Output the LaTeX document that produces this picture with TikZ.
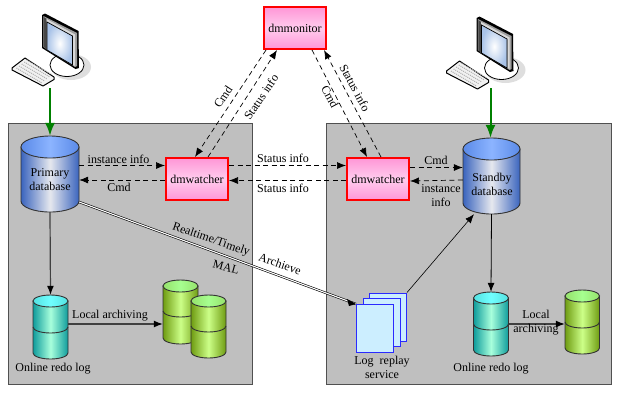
\documentclass[tikz,border=0pt]{standalone}
\usepackage{fontspec}
\setmainfont{Liberation Serif}
\usetikzlibrary{arrows.meta,calc}

\definecolor{panelfill}{HTML}{BFBFBF}
\definecolor{panelline}{HTML}{505050}
\definecolor{blueside}{HTML}{3A64BE}
\definecolor{bluemid}{HTML}{E6E8EE}
\definecolor{bluecap}{HTML}{8CB4FF}
\definecolor{bluecapedge}{HTML}{5A8AE8}
\definecolor{tealside}{HTML}{0F9C9C}
\definecolor{tealmid}{HTML}{A8FFDC}
\definecolor{tealcap}{HTML}{70FFFF}
\definecolor{limeside}{HTML}{6F9C12}
\definecolor{limemid}{HTML}{CCFF88}
\definecolor{limecap}{HTML}{A6FF90}
\definecolor{pinkedge}{HTML}{FF96D6}
\definecolor{pinkmid}{HTML}{FFCCEE}
\definecolor{sheetfill}{HTML}{CCEEFF}
\definecolor{sheetline}{HTML}{2A2AFF}
\definecolor{screenedge}{HTML}{A9C3E8}

\tikzset{
  x=1pt, y=-1pt,
  every node/.style={font=\fontsize{12}{14}\selectfont, inner sep=0pt, align=center},
  panel/.style={draw=panelline, fill=panelfill, line width=1pt},
  service/.style={draw=red, line width=2pt, minimum width=62pt, minimum height=42pt,
    top color=pinkedge, bottom color=pinkedge, middle color=pinkmid},
  sheet/.style={draw=sheetline, line width=1pt, fill=sheetfill, minimum width=37pt, minimum height=48pt},
  signal/.style={draw=black, line width=0.7pt, dash pattern=on 5pt off 3.5pt,
    -{Latex[length=9pt,width=7pt]}},
  flow/.style={draw=black, line width=0.8pt, -{Latex[length=9pt,width=7pt]}},
  heavyflow/.style={draw=black!75, line width=1.2pt, -{Latex[length=9pt,width=7pt,black]}},
  login/.style={draw=green!50!black, line width=2pt, -{Latex[length=13pt,width=10pt]}},
  replica/.style={draw=black, line width=0.6pt, double=white, double distance=1.1pt},
  pics/terminal/.style={code={
    % stand and its soft shadow
    \fill[black!13] (28,53) ellipse[x radius=20pt, y radius=13pt];
    \draw[fill=white, line width=0.8pt] (24,51) ellipse[x radius=17pt, y radius=11.5pt];
    % monitor housing
    \fill[black] (-1,1) -- (2,-0.5) -- (35.5,17) -- (36,54) -- (32.5,55) -- (-1,34) -- cycle;
    \fill[black!38] (0.3,2) -- (34.2,19) -- (34.2,52) -- (32,53) -- (0.3,33) -- cycle;
    \fill[black!72] (0.8,3) -- (3.6,5) -- (3.6,36.5) -- (0.8,32.5) -- cycle;
    \fill[white!85!black] (3.6,5) -- (32,20.5) -- (32,51.8) -- (30,51) -- (30,22) -- (3.6,8) -- cycle;
    % screen
    \shade[inner color=white, outer color=screenedge] (4,8) -- (29.5,22) -- (29.5,51) -- (4,36) -- cycle;
    \draw[black, line width=0.7pt] (4,8) -- (29.5,22) -- (29.5,51) -- (4,36) -- cycle;
    % keyboard
    \draw[fill=white!95!black, line width=1pt, line join=round]
      (-31,54) -- (-18,44) -- (11,63) -- (11,65.5) -- (0,72) -- (-31,56) -- cycle;
    \foreach \row in {0,...,4}{
      \draw[black!30, line width=1.1pt, dash pattern=on 1pt off 1pt]
        ({-26.5+2.6*\row},{54-2*\row}) -- ({-1+2.6*\row},{69-2*\row});
    }
  }}
}

% A drum with a shaded side, an optional seam and a lit cap.
% #1 name, #2 left x, #3 top y, #4 width, #5 height, #6 cap half-height,
% #7 palette prefix (side, mid, cap, cap edge), #8 seam position (negative: none)
\newcommand{\barrel}[8]{%
  \begin{scope}[shift={(#2,#3)}]
    \pgfmathsetmacro{\halfw}{#4/2}
    \shade[draw=black!80, line width=0.9pt, left color=#7side, right color=#7side, middle color=#7mid]
      (0,#6) -- (0,#5-#6) arc[start angle=180, end angle=360, x radius=\halfw pt, y radius=#6 pt]
      -- (#4,#6) -- cycle;
    \ifdim #8pt>0pt
      \draw[black!80, line width=0.9pt] (0,#8) arc[start angle=180, end angle=360, x radius=\halfw pt, y radius=#6 pt];
    \fi
    \shade[draw=black!80, line width=0.9pt, left color=#7capedge, right color=#7capedge, middle color=#7cap]
      (\halfw,#6) ellipse[x radius=\halfw pt, y radius=#6 pt];
    \node[minimum width=#4 pt, minimum height=#5 pt] (#1) at (\halfw,#5/2) {};
  \end{scope}%
}
\colorlet{tealcapedge}{tealcap!70!tealside}
\colorlet{limecapedge}{limecap!70!limeside}

\begin{document}
\begin{tikzpicture}
\useasboundingbox (0,0) rectangle (618,392);

% Hosts
\draw[panel] (8,123) rectangle (252,384);
\draw[panel] (326,123) rectangle (611,384);

% Workstations
\pic at (43,14) {terminal};
\pic at (477.5,17) {terminal};
\coordinate (pcA) at (50,88);
\coordinate (pcB) at (490.5,88);

% Databases and logs
\barrel{primary}{21}{136}{58}{76}{11}{blue}{-1}
\barrel{standby}{463}{138}{57}{76}{11}{blue}{-1}
\barrel{redoA}{33}{295}{35}{64}{6}{teal}{32}
\barrel{archA}{163}{280}{35}{64}{6}{lime}{31}
\barrel{archB}{191}{295}{35}{63}{6}{lime}{31}
\barrel{redoB}{473.5}{292}{35}{64}{6}{teal}{32}
\barrel{archC}{565}{290}{34.5}{64}{6}{lime}{32}
\node at (50,180) {Primary\\database};
\node at (492,184) {Standby\\database};

% Monitoring services
\node[service] (mon) at (295,28) {dmmonitor};
\node[service] (watchA) at (197,179) {dmwatcher};
\node[service] (watchB) at (378,179) {dmwatcher};

% Replay service sheets
\node[sheet] (replayC) at (388,317) {};
\node[sheet] (replayB) at (382,322.5) {};
\node[sheet] (replayA) at (375,328.5) {};

% Client access
\draw[login] (pcA) -- (primary.north);
\draw[login] (pcB) -- (pcB |- standby.north);

% Local signalling
\draw[signal] ([yshift=8.5pt]primary.east) -- ([yshift=13.5pt]watchA.west);
\draw[signal] ([yshift=-1pt]watchA.west) -- ([yshift=-6pt]primary.east);
\draw[signal] ([yshift=13.5pt]watchA.east) -- ([yshift=13.5pt]watchB.west);
\draw[signal] ([yshift=-1.5pt]watchB.west) -- ([yshift=-1.5pt]watchA.east);
\draw[signal] ([yshift=11.5pt]watchB.east) -- ([yshift=8.5pt]standby.west);
\draw[signal] ([yshift=-4pt]standby.west) -- ([yshift=-2pt]watchB.east);

% Links to the monitor
\draw[signal] ([xshift=-29pt]mon.south) -- ([xshift=-2pt]watchA.north);
\draw[signal] ([xshift=11pt]watchA.north) -- ([xshift=-18pt]mon.south);
\draw[signal] ([xshift=17pt]mon.south) -- ([xshift=-11pt]watchB.north);
\draw[signal] ([xshift=3pt]watchB.north) -- ([xshift=29pt]mon.south);

% Log flows
\draw[heavyflow] (primary.south) -- (redoA.north);
\draw[flow] (standby.south) -- (redoB.north);
\draw[heavyflow] ([yshift=3pt]redoA.east) -- ([yshift=-12pt]archA.west);
\draw[heavyflow] (redoB.east) -- ([yshift=-2pt]archC.west);
\draw[replica] ([yshift=-28pt]primary.east) -- (replayA.north west);
\draw[flow, line width=0.6pt] (replayC.north east) -- ([xshift=-17.5pt]standby.south);
\fill[black] (replayA.north west) -- ++(-9,-5) -- ++(2,7) -- cycle;

% Labels
\node at (118.5,159) {instance info};
\node at (119,187) {Cmd};
\node at (283,158.5) {Status info};
\node at (283,188) {Status info};
\node at (436,160) {Cmd};
\node at (441,195.5) {instance\\info};
\node[rotate=56] at (223,97) {Cmd};
\node[rotate=56] at (261,97) {Status info};
\node[rotate=-62] at (330,97) {Cmd};
\node[rotate=-62] at (355,88) {Status info};
\node[rotate=-19] at (211,240) {Realtime/Timely};
\node[rotate=-19] at (280,264) {Archieve};
\node[rotate=-15] at (226,267) {MAL};
\node at (110,315.5) {Local archiving};
\node at (536,323) {Local\\archiving};
\node at (53,369) {Online redo log};
\node at (491,369) {Online redo log};
\node at (382,367.5) {Log\ \ replay\\service};
\end{tikzpicture}
\end{document}
